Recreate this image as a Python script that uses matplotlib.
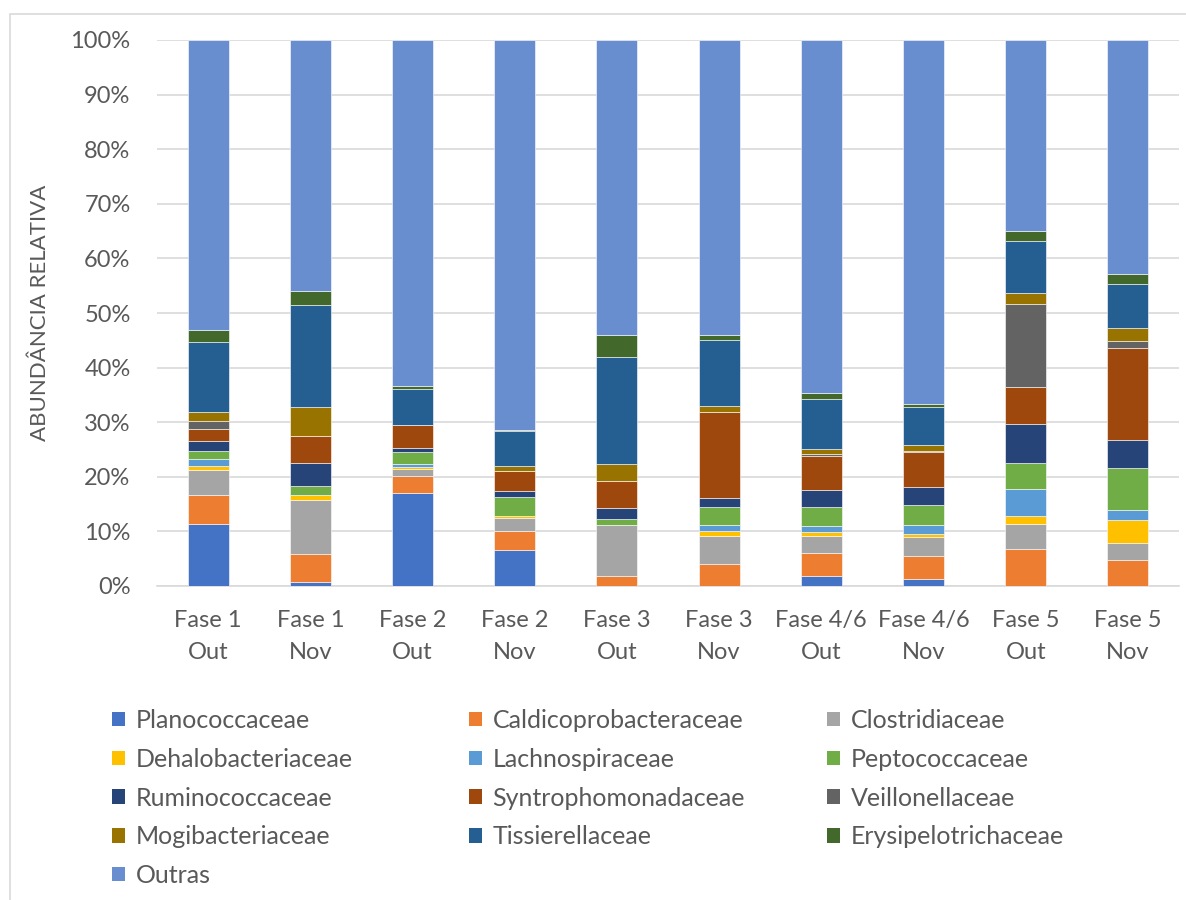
import matplotlib
matplotlib.use("Agg")
import matplotlib.pyplot as plt
from matplotlib.patches import Patch, Rectangle
from matplotlib.ticker import PercentFormatter
import numpy as np

plt.rcParams["font.family"] = ["Lato", "DejaVu Sans"]

samples = ["Fase 1\nOut", "Fase 1\nNov", "Fase 2\nOut", "Fase 2\nNov", "Fase 3\nOut",
           "Fase 3\nNov", "Fase 4/6\nOut", "Fase 4/6\nNov", "Fase 5\nOut", "Fase 5\nNov"]

# Relative abundance (%) per family, bottom to top of each stack
planococcaceae      = [11.4, 0.8, 17.0, 6.6, 0.0, 0.0, 1.8, 1.3, 0.0, 0.0]
caldicoprobacteraceae = [5.3, 5.0, 3.1, 3.5, 1.8, 4.0, 4.2, 4.2, 6.7, 4.7]
clostridiaceae      = [4.6, 9.9, 1.4, 2.4, 9.3, 5.1, 3.2, 3.4, 4.6, 3.1]
dehalobacteriaceae  = [0.6, 0.9, 0.3, 0.4, 0.0, 1.0, 0.6, 0.6, 1.6, 4.2]
lachnospiraceae     = [1.3, 0.0, 0.6, 0.0, 0.0, 1.0, 1.1, 1.6, 4.9, 2.0]
peptococcaceae      = [1.6, 1.7, 2.1, 3.4, 1.1, 3.3, 3.5, 3.7, 4.8, 7.7]
ruminococcaceae     = [1.7, 4.2, 0.8, 1.1, 2.1, 1.8, 3.2, 3.4, 7.1, 5.1]
syntrophomonadaceae = [2.3, 5.0, 4.1, 3.6, 5.0, 15.7, 6.2, 6.3, 6.8, 16.7]
veillonellaceae     = [1.4, 0.0, 0.0, 0.0, 0.0, 0.0, 0.3, 0.2, 15.2, 1.4]
mogibacteriaceae    = [1.6, 5.2, 0.0, 0.9, 3.1, 1.0, 1.0, 1.2, 1.9, 2.4]
tissierellaceae     = [12.8, 18.7, 6.6, 6.4, 19.5, 12.1, 9.2, 6.8, 9.5, 8.1]
erysipelotrichaceae = [2.3, 2.6, 0.7, 0.3, 4.0, 0.9, 1.0, 0.6, 1.9, 1.7]
outras              = [53.1, 46.0, 63.3, 71.4, 54.1, 54.1, 64.7, 66.7, 35.0, 42.9]

families = ["Planococcaceae", "Caldicoprobacteraceae", "Clostridiaceae",
            "Dehalobacteriaceae", "Lachnospiraceae", "Peptococcaceae",
            "Ruminococcaceae", "Syntrophomonadaceae", "Veillonellaceae",
            "Mogibacteriaceae", "Tissierellaceae", "Erysipelotrichaceae", "Outras"]
series = [planococcaceae, caldicoprobacteraceae, clostridiaceae, dehalobacteriaceae,
          lachnospiraceae, peptococcaceae, ruminococcaceae, syntrophomonadaceae,
          veillonellaceae, mogibacteriaceae, tissierellaceae, erysipelotrichaceae, outras]
colors = ["#4472C4", "#ED7D31", "#A5A5A5", "#FFC000", "#5B9BD5", "#70AD47",
          "#264478", "#9E480E", "#636363", "#997300", "#255E91", "#43682B", "#698ED0"]

W, H = 1186, 900
fig = plt.figure(figsize=(W / 100, H / 100), dpi=100)
ax = fig.add_axes([157 / W, 1 - 586 / H, (1179 - 157) / W, 546 / H])

x = np.arange(len(samples))
bottom = np.zeros(len(samples))
for vals, col, name in zip(series, colors, families):
    v = np.array(vals, dtype=float)
    ax.bar(x, v, width=0.4, bottom=bottom, color=col, label=name,
           edgecolor="white", linewidth=0.4, zorder=3)
    bottom += v

ax.set_xlim(-0.5, len(samples) - 0.5)
ax.set_ylim(0, 100)
ax.set_yticks(np.arange(0, 101, 10))
ax.yaxis.set_major_formatter(PercentFormatter(decimals=0))
ax.set_xticks(x)
ax.set_xticklabels(samples, linespacing=1.68)
ax.tick_params(axis="both", length=0, labelsize=17, colors="#595959")
ax.tick_params(axis="x", pad=17)
ax.tick_params(axis="y", pad=19)
ax.grid(axis="y", color="#D9D9D9", linewidth=1.2, zorder=0)
for side in ["top", "right", "left"]:
    ax.spines[side].set_visible(False)
ax.spines["bottom"].set_color("#D9D9D9")
ax.spines["bottom"].set_linewidth(1.2)

fig.text(40 / W, 1 - 313 / H, "ABUNDÂNCIA RELATIVA", rotation=90, ha="center",
         va="center", fontsize=16, color="#595959")

# Legend laid out row by row in three columns
handles = [Patch(facecolor=c, edgecolor="none") for c in colors]
col_x = [112, 469, 827]
for ci in range(3):
    idx = list(range(ci, len(families), 3))
    fig.legend([handles[i] for i in idx], [families[i] for i in idx],
               loc="upper left", bbox_to_anchor=(col_x[ci] / W, 1 - 709 / H),
               frameon=False, fontsize=18, labelcolor="#595959",
               handlelength=0.52, handleheight=0.52, handletextpad=0.42,
               labelspacing=0.63, borderpad=0, borderaxespad=0)

# Chart area border
fig.add_artist(Rectangle((10 / W, -0.05), 1.1, 1 - 14 / H + 0.05,
                         transform=fig.transFigure, fill=False,
                         edgecolor="#D9D9D9", linewidth=1.2))

fig.savefig("out.png", dpi=100, facecolor="white")
